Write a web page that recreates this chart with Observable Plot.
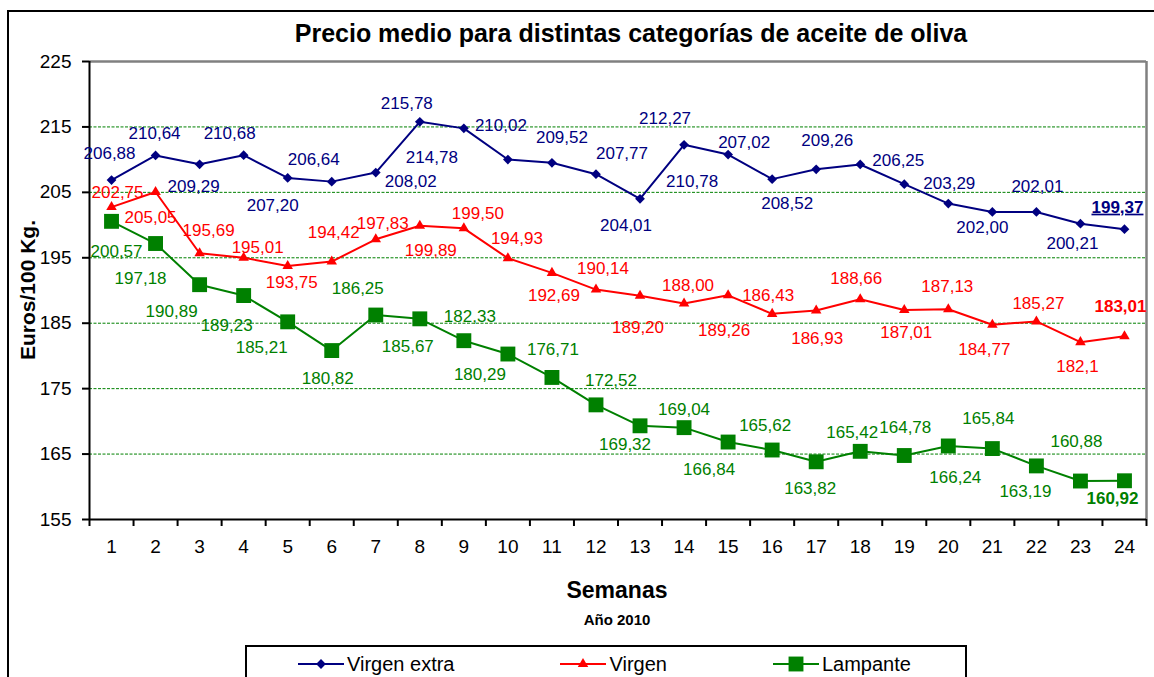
<!DOCTYPE html>
<html><head><meta charset="utf-8">
<script src="https://cdn.jsdelivr.net/npm/d3@7"></script>
<script src="https://cdn.jsdelivr.net/npm/@observablehq/plot@0.6"></script>
<style>
body{margin:0;background:#fff;font-family:Arial,"Liberation Sans",sans-serif;}
#wrap{position:relative;width:1154px;height:677px;overflow:hidden;background:#fff;}
#border{position:absolute;left:7px;top:10px;width:1200px;height:700px;border:2px solid #000;box-sizing:border-box;}
#chart{position:absolute;left:0;top:0;}
.abs{position:absolute;white-space:nowrap;color:#000;}
#title{left:631px;top:33px;transform:translate(-50%,-50%);font-weight:bold;font-size:25px;}
#ylab{left:28px;top:290px;transform:translate(-50%,-50%) rotate(-90deg);font-weight:bold;font-size:21px;}
#xlab{left:617px;top:590px;transform:translate(-50%,-50%);font-weight:bold;font-size:23px;}
#xsub{left:617px;top:619px;transform:translate(-50%,-50%);font-weight:bold;font-size:15px;}
#legend{position:absolute;left:245px;top:645px;width:722px;height:60px;border:2px solid #000;box-sizing:border-box;background:#fff;display:flex;gap:106px;padding-left:51px;padding-top:6px;}
.item{display:flex;align-items:center;font-size:20px;height:22px;}
.item span{margin-left:3px;}
</style>
</head><body>
<div id="wrap">
  <div id="border"></div>
  <div id="chart"></div>
  <div class="abs" id="title">Precio medio para distintas categorías de aceite de oliva</div>
  <div class="abs" id="ylab">Euros/100 Kg.</div>
  <div class="abs" id="xlab">Semanas</div>
  <div class="abs" id="xsub">Año 2010</div>
  <div id="legend"></div>
</div>
<script>
// ---- data ----
const weeks = [1,2,3,4,5,6,7,8,9,10,11,12,13,14,15,16,17,18,19,20,21,22,23,24];
const seriesNames = ["Virgen extra", "Virgen", "Lampante"];
const virgenExtra = ["206,88","210,64","209,29","210,68","207,20","206,64","208,02","215,78","214,78","210,02","209,52","207,77","204,01","212,27","210,78","207,02","208,52","209,26","206,25","203,29","202,00","202,01","200,21","199,37"];
const virgen = ["202,75","205,05","195,69","195,01","193,75","194,42","197,83","199,89","199,50","194,93","192,69","190,14","189,20","188,00","189,26","186,43","186,93","188,66","187,01","187,13","184,77","185,27","182,1","183,01"];
const lampante = ["200,57","197,18","190,89","189,23","185,21","180,82","186,25","185,67","182,33","180,29","176,71","172,52","169,32","169,04","166,84","165,62","163,82","165,42","164,78","166,24","165,84","163,19","160,88","160,92"];
const yTicks = [155,165,175,185,195,205,215,225];

// ---- label placement (pixel offsets from each point) ----
const extraLabelOffset = [[-2,-27],[-1,-22],[-6,22],[-14,-22],[-15,28],[-18,-22],[35,9],[-13,-18],[-32,29],[-7,-34],[10,-25],[26,-21],[-14,27],[-19,-26],[-36,27],[-28,-37],[-29,34],[-33,-24],[-6,-24],[1,-20],[-10,16],[1,-25],[-8,20],[-7,-22]];
const virgenLabelOffset = [[6,-15],[-5,26],[9,-23],[14,-10],[4,17],[2,-29],[7,-16],[11,25],[14,-15],[9,-20],[2,23],[7,-21],[-2,32],[4,-18],[-4,35],[-4,-18],[1,28],[-4,-21],[2,22],[-1,-23],[-8,25],[2,-18],[-3,24],[-4,-30]];
const lampanteLabelOffset = [[5,30],[-15,35],[-28,27],[-17,30],[-26,26],[-4,28],[-18,-26],[-12,28],[6,-24],[-28,21],[1,-28],[15,-24],[-15,19],[0,-18],[-19,28],[-7,-24],[-6,27],[-8,-19],[1,-28],[7,32],[-4,-30],[-11,26],[-4,-39],[-12,18]];

const toNum = s => +s.replace(",", ".");
const series = [
  {name: seriesNames[0], vals: virgenExtra, color: "#000080", symbol: "diamond2", r: 4.4, off: extraLabelOffset},
  {name: seriesNames[1], vals: virgen, color: "#ff0000", symbol: "triangle", r: 3.9, off: virgenLabelOffset},
  {name: seriesNames[2], vals: lampante, color: "#008000", symbol: "square", r: 8.4, off: lampanteLabelOffset}
];
series.forEach(s => {
  s.data = weeks.map((w, i) => ({week: w, value: toNum(s.vals[i]), label: s.vals[i], dx: s.off[i][0], dy: s.off[i][1], last: i === weeks.length - 1}));
});

const font = "Arial, 'Liberation Sans', sans-serif";
const marks = [
  Plot.ruleY(yTicks.slice(1, -1), {stroke: "#008000", strokeWidth: 1, strokeDasharray: "3,1.5"}),
  Plot.ruleY([yTicks[yTicks.length - 1]], {stroke: "#808080", strokeWidth: 2.5}),
  Plot.ruleX([weeks.length + 0.5], {stroke: "#808080", strokeWidth: 2.5}),
];
series.forEach(s => {
  marks.push(Plot.line(s.data, {x: "week", y: "value", stroke: s.color, strokeWidth: 2}));
});
series.forEach(s => {
  marks.push(Plot.dot(s.data, {x: "week", y: "value", symbol: s.symbol, r: s.r, fill: s.color, stroke: "none"}));
});
marks.push(
  Plot.ruleX([0.5], {stroke: "#000", strokeWidth: 2}),
  Plot.ruleY([yTicks[0]], {stroke: "#000", strokeWidth: 2}),
  Plot.axisY({ticks: yTicks, tickSize: 7, tickPadding: 11, fontSize: 19, label: null, stroke: "#000", strokeWidth: 2, fill: "#000"}),
  Plot.axisX({ticks: [0.5, ...weeks.map(w => w + 0.5)], tickSize: 7, tickFormat: () => "", label: null, stroke: "#000", strokeWidth: 2}),
  Plot.text(weeks, {x: d => d, frameAnchor: "bottom", dy: 33, text: d => String(d), fontSize: 19, fill: "#000"})
);
series.forEach(s => {
  s.data.forEach(d => {
    marks.push(Plot.text([d], {x: "week", y: "value", text: "label", dx: d.dx, dy: d.dy, fill: s.color, fontSize: 17, fontWeight: d.last ? "bold" : "normal"}));
  });
});

const chart = Plot.plot({
  width: 1154, height: 677,
  marginTop: 61, marginLeft: 89, marginRight: 8, marginBottom: 158,
  x: {domain: [0.5, weeks.length + 0.5], axis: null},
  y: {domain: [yTicks[0], yTicks[yTicks.length - 1]], axis: null},
  style: {fontFamily: font, background: "transparent", color: "#000"},
  marks
});
chart.querySelectorAll("text").forEach(t => {
  if (t.textContent === virgenExtra[virgenExtra.length - 1]) t.setAttribute("text-decoration", "underline");
});
document.getElementById("chart").appendChild(chart);

// ---- legend ----
const legend = document.getElementById("legend");
const symbolPaths = {diamond2: d3.symbolDiamond2, triangle: d3.symbolTriangle, square: d3.symbolSquare};
series.forEach(s => {
  const item = document.createElement("div");
  item.className = "item";
  const size = Math.PI * s.r * s.r;
  const path = d3.symbol(symbolPaths[s.symbol], size)();
  item.innerHTML = `<svg width="46" height="22"><line x1="0" x2="46" y1="11" y2="11" stroke="${s.color}" stroke-width="2"/><path d="${path}" transform="translate(23,11)" fill="${s.color}"/></svg><span>${s.name}</span>`;
  legend.appendChild(item);
});
</script>
</body></html>
